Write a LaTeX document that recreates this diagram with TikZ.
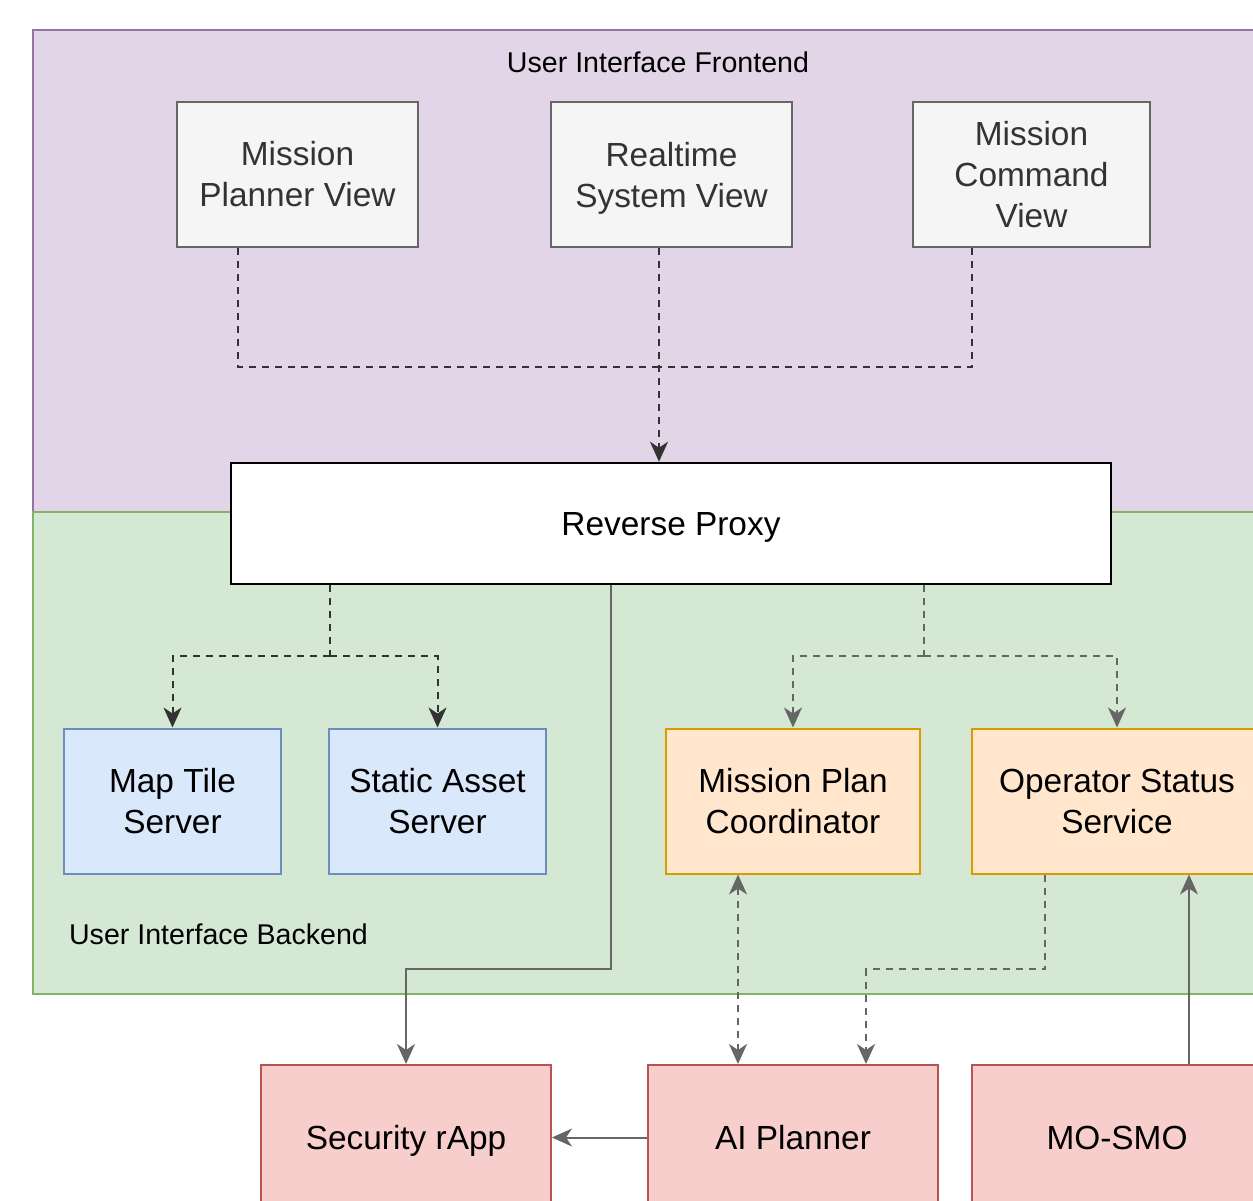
\documentclass[tikz,border=0pt]{standalone}
\usepackage{fontspec}
\setmainfont{Liberation Sans}
\usepackage{xcolor}
\usetikzlibrary{arrows.meta}

\definecolor{feFill}{HTML}{E1D5E7}
\definecolor{feLine}{HTML}{9673A6}
\definecolor{beFill}{HTML}{D5E8D4}
\definecolor{beLine}{HTML}{82B366}
\definecolor{viewFill}{HTML}{F5F5F5}
\definecolor{viewLine}{HTML}{666666}
\definecolor{viewText}{HTML}{333333}
\definecolor{srvFill}{HTML}{DAE8FC}
\definecolor{srvLine}{HTML}{6C8EBF}
\definecolor{coFill}{HTML}{FFE6CC}
\definecolor{coLine}{HTML}{D79B00}
\definecolor{extFill}{HTML}{F8CECC}
\definecolor{extLine}{HTML}{B85450}
\definecolor{darkLink}{HTML}{333333}
\definecolor{greyLink}{HTML}{666666}

\begin{document}
\begin{tikzpicture}[x=0.5pt, y=-0.5pt, >={Stealth[length=10pt,width=9pt,inset=3pt]}]
\tikzset{
  block/.style = {rectangle, draw, line width=1pt, inner sep=0pt, align=center, minimum height=72.5pt, font=\fontsize{16.7}{20.5}\selectfont},
  oneline/.style = {text height=12pt, text depth=0pt},
  view/.style = {block, fill=viewFill, draw=viewLine, text=viewText, minimum width=120.5pt},
  server/.style = {block, fill=srvFill, draw=srvLine, minimum width=108.5pt},
  coord/.style = {block, fill=coFill, draw=coLine},
  extern/.style = {block, oneline, fill=extFill, draw=extLine, minimum width=145pt},
  region/.style = {font=\fontsize{14.3}{17}\selectfont},
  link/.style = {draw=greyLink, line width=1pt},
  dlink/.style = {link, dash pattern=on 3.5pt off 3pt},
  ddlink/.style = {dlink, draw=darkLink}
}
\useasboundingbox (0,0) rectangle (1253,1200);
\clip (0,0) rectangle (1253,1200);
% regions
\filldraw[fill=feFill, draw=feLine, line width=1pt] (33,30) rectangle (1300,512);
\filldraw[fill=beFill, draw=beLine, line width=1pt] (33,512) rectangle (1300,994);
\node [region] (felabel) at (658,62) {User Interface Frontend};
\node [region, anchor=west] (belabel) at (62,934) {User Interface Backend};
% frontend views
\node [view] (planner) at (297.5,174.5) {Mission\\Planner View};
\node [view, right of=planner, node distance=187pt] (realtime) {Realtime\\\smash{System View}};
\node [view, right of=realtime, node distance=180pt, minimum width=118.5pt] (command) {Mission\\Command\\View};
\node [block, oneline, fill=white, draw=black, line width=1.3pt, minimum width=440pt, minimum height=60.5pt] (proxy) at (671,523.5) {Reverse Proxy};
% backend services
\node [server] (maptile) at (172.5,801) {Map Tile\\Server};
\node [server, right of=maptile, node distance=132.5pt] (static) {Static Asset\\Server};
\node [coord, minimum width=127pt] (coordinator) at (793,801) {Mission Plan\\Coordinator};
\node [coord, right of=coordinator, node distance=162pt, minimum width=145pt] (operator) {Operator Status\\Service};
% external
\node [extern] (security) at (406,1137.5) {Security rApp};
\node [extern, right of=security, node distance=193.5pt] (aiplanner) {AI Planner};
\node [extern, right of=aiplanner, node distance=162pt] (mosmo) {MO-SMO};
\coordinate (fejoin) at (659,367);
\coordinate (lbjoin) at (330,656);
\coordinate (rbjoin) at (924,656);
\coordinate (secbend) at (611,969);
\coordinate (opbend) at (866,969);
\path [ddlink] ([xshift=-29.75pt]planner.south) |- (fejoin);
\path [ddlink] ([xshift=-29.75pt]command.south) |- (fejoin);
\path [ddlink, ->] ([xshift=-6.25pt]realtime.south) -- ([xshift=-6pt]proxy.north);
\path [ddlink] ([xshift=-170.5pt]proxy.south) -- (lbjoin);
\path [ddlink, ->] (lbjoin) -| (maptile.north);
\path [ddlink, ->] (lbjoin) -| (static.north);
\path [dlink] ([xshift=126.5pt]proxy.south) -- (rbjoin);
\path [dlink, ->] (rbjoin) -| (coordinator.north);
\path [dlink, ->] (rbjoin) -| (operator.north);
\path [link, ->] ([xshift=-30pt]proxy.south) |- (secbend) -| (security.north);
\path [dlink, <->] ([xshift=-27.5pt]coordinator.south) -- ([xshift=-27.5pt]aiplanner.north);
\path [dlink, ->] ([xshift=-36pt]operator.south) |- (opbend) -- ([xshift=36.5pt]aiplanner.north);
\path [link, ->] ([xshift=36pt]mosmo.north) -- ([xshift=36pt]operator.south);
\path [link, ->] (aiplanner.west) -- (security.east);
\end{tikzpicture}
\end{document}
